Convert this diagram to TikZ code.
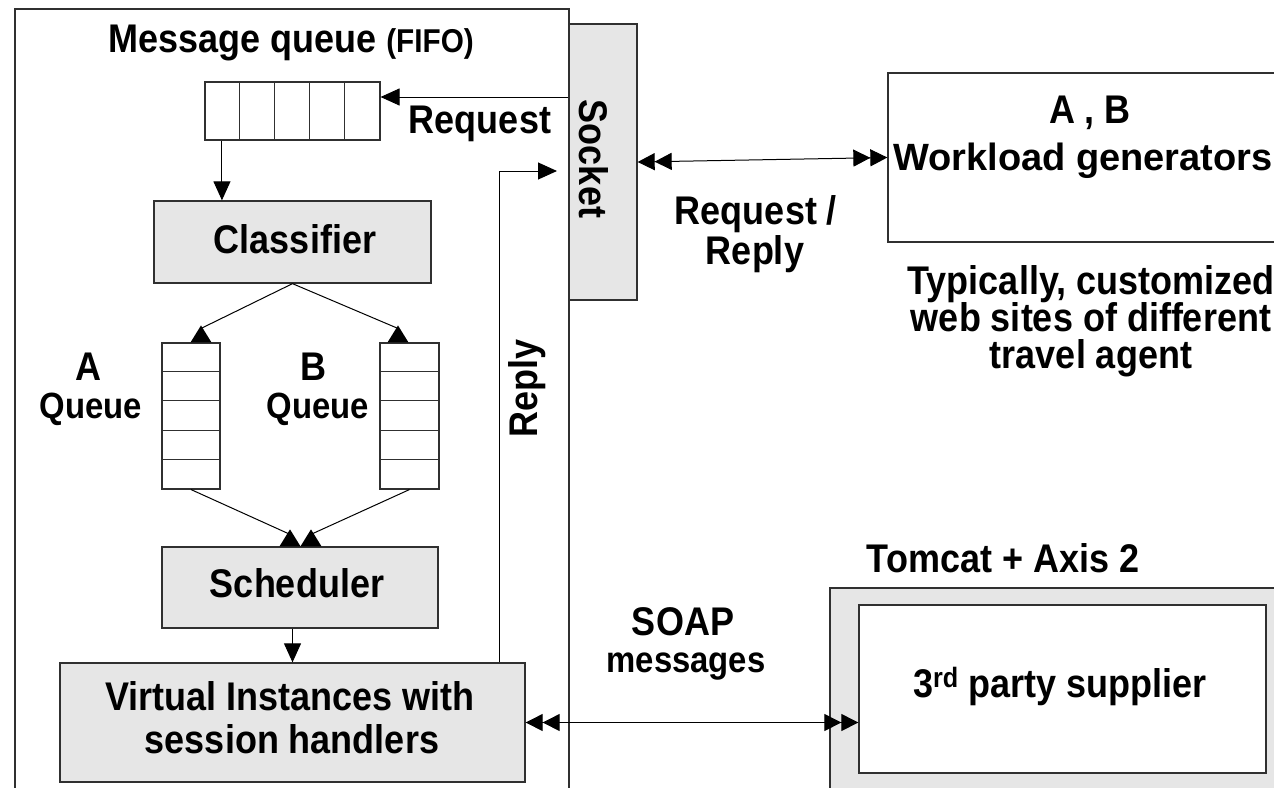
\documentclass[tikz,border=0pt]{standalone}
\usepackage{fontspec}
\setmainfont[FakeStretch=0.9]{Liberation Sans}
\newfontfamily\widefont{Liberation Sans}
\usetikzlibrary{arrows.meta}

\definecolor{boxgray}{HTML}{E6E6E6}
\definecolor{edge}{HTML}{303030}

\tikzset{
  lbl/.style={font=\bfseries\fontsize{40}{46}\selectfont, inner sep=0pt, anchor=base},
  midlbl/.style={lbl, font=\bfseries\fontsize{36.5}{42}\selectfont},
  graybox/.style={draw=edge, line width=1.3pt, fill=boxgray, inner sep=0pt},
  whitebox/.style={draw=edge, line width=1.3pt, fill=white, inner sep=0pt},
  queuebox/.style={draw=edge, line width=1.1pt, fill=white, inner sep=0pt},
  conn/.style={draw=black, line width=1pt},
  tip/.style={-{Triangle[length=19pt,width=17pt]}},
  dtip/.style={{Triangle[length=17pt,width=17pt] Triangle[length=17pt,width=17pt]}-{Triangle[length=17pt,width=17pt] Triangle[length=17pt,width=17pt]}},
}

% small filled triangle standing on a box edge, base centred on #1
\newcommand\uptri[1]{\fill[black] (#1) ++(-10.5,0) -- ++(21,0) -- ++(-10.5,-17) -- cycle;}

\begin{document}
\begin{tikzpicture}[x=1pt,y=-1pt]
\useasboundingbox (0,0) rectangle (1274,787);
\clip (0,0) rectangle (1274,787);
\fill[white] (0,0) rectangle (1274,787);

% ---------- server side container ----------
\draw[draw=edge, line width=1.3pt] (15,9) rectangle (569,820);
\node[lbl] at (291,52) {Message queue {\fontsize{33}{38}\selectfont(FIFO)}};

% socket
\node[graybox, minimum width=68pt, minimum height=276pt] (sock) at (603,162) {};
\node[lbl, anchor=center, rotate=-90] at (594,159) {Socket};

% incoming FIFO
\node[queuebox, minimum width=175pt, minimum height=58pt] (fifo) at (292.5,111) {};
\foreach \i in {1,...,4}
  \draw[edge, line width=1.1pt] ([xshift=35*\i pt]fifo.south west) -- ([xshift=35*\i pt]fifo.north west);

\coordinate (reqin) at ([yshift=14pt]fifo.east);
\draw[conn, tip] (sock.west |- reqin) -- (reqin);
\node[lbl] at (480,133) {Request};

% classifier
\node[graybox, minimum width=277pt, minimum height=82pt] (cls) at (292.5,242) {};
\node[lbl] at (295,253) {Classifier};
\draw[conn, tip] ([xshift=17.5pt]fifo.south west) -- ([xshift=17.5pt]fifo.south west |- cls.north);

% per-class queues
\node[queuebox, minimum width=58pt, minimum height=146pt] (qa) at (191,416) {};
\node[queuebox, minimum width=59pt, minimum height=146pt] (qb) at (409.5,416) {};
\foreach \q in {qa,qb}
  \foreach \i in {1,...,4}
    \draw[edge, line width=1.1pt] ([yshift=-29.2*\i pt]\q.north west) -- ([yshift=-29.2*\i pt]\q.north east);

\node[lbl] at (88,380) {A};
\node[midlbl] at (91,418) {Queue};
\node[lbl] at (313,380) {B};
\node[midlbl] at (318,418) {Queue};

\coordinate (qatip) at ([xshift=10pt]qa.north);
\coordinate (qbtip) at ([xshift=-11.5pt]qb.north);
\draw[conn] (cls.south) -- ([yshift=14pt]qatip);
\draw[conn] (cls.south) -- ([yshift=14pt]qbtip);
\uptri{qatip}
\uptri{qbtip}

% scheduler
\node[graybox, minimum width=276pt, minimum height=81pt] (sch) at (300,587.5) {};
\node[lbl] at (297,597) {Scheduler};
\coordinate (schl) at ([xshift=-10pt]sch.north);
\coordinate (schr) at ([xshift=11pt]sch.north);
\draw[conn] (qa.south) -- ([yshift=12pt]schl);
\draw[conn] (qb.south) -- ([yshift=12pt]schr);
\uptri{schl}
\uptri{schr}

% virtual instances
\node[graybox, minimum width=465pt, minimum height=119pt] (vi) at (292.5,722.5) {};
\node[lbl] at (290,710) {Virtual Instances with};
\node[lbl] at (292,753) {session handlers};
\draw[conn, tip] (vi.north |- sch.south) -- (vi.north);

% reply path back to the socket
\coordinate (rp) at ([xshift=-26pt]vi.north east);
\coordinate (rpend) at (557,171);
\draw[conn, tip] (rp) |- (rpend);
\node[lbl, anchor=center, rotate=90] at (527,388) {Reply};

% ---------- clients ----------
\node[whitebox, minimum width=420pt, minimum height=169pt] (wl) at (1098,157.5) {};
\node[lbl] at (1090,123) {A , B};
\node[lbl, anchor=base west, font=\widefont\bfseries\fontsize{38}{44}\selectfont] at (893,170) {Workload generators};
\draw[conn, dtip] (sock.east) -- (wl.west);
\node[lbl] at (756,224) {Request /};
\node[lbl] at (755,264) {Reply};

\node[lbl] at (1091,294) {Typically, customized};
\node[lbl] at (1091,331) {web sites of different};
\node[lbl] at (1091,368) {travel agent};

% ---------- supplier ----------
\node[lbl] at (1003,572) {Tomcat + Axis 2};
\node[graybox, minimum width=480pt, minimum height=230pt] (tc) at (1070,703) {};
\node[whitebox, minimum width=407pt, minimum height=168pt] (sup) at (1062.5,689) {};
\node[lbl] at (1060,697) {3\textsuperscript{rd} party supplier};

\draw[conn, dtip] (vi.east) -- (vi.east -| sup.west);
\node[lbl] at (683,635) {SOAP};
\node[midlbl] at (686,672) {messages};
\end{tikzpicture}
\end{document}
